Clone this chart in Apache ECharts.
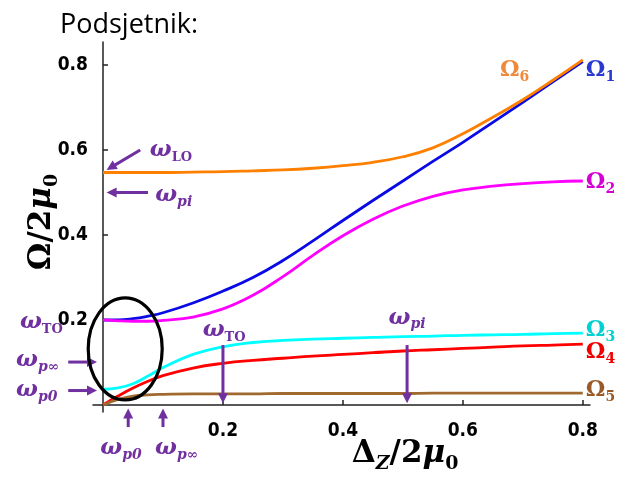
<!DOCTYPE html>
<html><head><meta charset="utf-8">
<script src="https://cdn.jsdelivr.net/npm/echarts@6/dist/echarts.min.js"></script>
<style>html,body{margin:0;padding:0;background:#fff}#c{width:620px;height:479px}</style>
</head><body><div id="c"></div>
<script>
// ---- data ----
const xs     = [0, 0.025, 0.05, 0.075, 0.1, 0.15, 0.2, 0.25, 0.3, 0.35, 0.4, 0.45, 0.5, 0.55, 0.6, 0.65, 0.7, 0.75, 0.8];
const omega1 = [0.200, 0.200, 0.203, 0.209, 0.217, 0.240, 0.268, 0.300, 0.340, 0.386, 0.434, 0.481, 0.527, 0.573, 0.618, 0.665, 0.712, 0.760, 0.808];
const omega2 = [0.200, 0.198, 0.197, 0.197, 0.199, 0.207, 0.226, 0.258, 0.302, 0.352, 0.398, 0.437, 0.468, 0.491, 0.506, 0.515, 0.521, 0.525, 0.527];
const omega3 = [0.037, 0.040, 0.050, 0.068, 0.088, 0.119, 0.137, 0.147, 0.152, 0.155, 0.157, 0.159, 0.161, 0.162, 0.164, 0.165, 0.166, 0.168, 0.169];
const omega4 = [0.000, 0.021, 0.040, 0.056, 0.069, 0.087, 0.098, 0.105, 0.110, 0.115, 0.119, 0.123, 0.127, 0.130, 0.133, 0.136, 0.139, 0.141, 0.143];
const omega5 = [0.000, 0.013, 0.021, 0.024, 0.025, 0.026, 0.026, 0.026, 0.027, 0.027, 0.027, 0.027, 0.027, 0.028, 0.028, 0.028, 0.028, 0.028, 0.028];
const omega6 = [0.547, 0.547, 0.547, 0.547, 0.547, 0.548, 0.549, 0.551, 0.553, 0.557, 0.563, 0.571, 0.584, 0.605, 0.638, 0.677, 0.718, 0.764, 0.812];
const xTicks = [0.2, 0.4, 0.6, 0.8];
const yTicks = [0.2, 0.4, 0.6, 0.8];
const seriesNames = ['1', '2', '3', '4', '5', '6'];

const PURPLE = '#7030a0';
const lineColors  = ['#0a0ae6', '#ff00ff', '#00ffff', '#ff0000', '#a0692e', '#ff8000'];
const labelColors = ['#2a3ad0', '#d400d4', '#00d0d0', '#f00000', '#9a5a28', '#f08a3a'];

const chart = echarts.init(document.getElementById('c'), null, {renderer: 'canvas'});

function zip(a, b) { return a.map((v, i) => [v, b[i]]); }
function omegaRich(color, key) {
  return {
    o: {fontFamily: 'DejaVu Serif', fontWeight: 'bold', fontSize: 22, [key]: color, lineHeight: 28},
    s: {fontFamily: 'DejaVu Serif', fontWeight: 'bold', fontSize: 14, [key]: color, lineHeight: 28, verticalAlign: 'bottom'}
  };
}
const endOffsets = [[0, 9], [0, 1], [0, -3], [0, 8], [0, -3], null];
const allVals = [omega1, omega2, omega3, omega4, omega5, omega6];

const series = allVals.map((vals, i) => ({
  type: 'line',
  name: 'Ω' + seriesNames[i],
  data: zip(xs, vals),
  smooth: 0.45,
  showSymbol: false,
  symbol: 'none',
  lineStyle: {color: lineColors[i], width: 2.8},
  z: 3,
  endLabel: endOffsets[i] ? {
    show: true,
    distance: 3,
    offset: endOffsets[i],
    formatter: '{o|Ω}{s|' + seriesNames[i] + '}',
    rich: omegaRich(labelColors[i], 'color')
  } : {show: false}
}));

const tickFont = {fontFamily: "'Liberation Sans Narrow','DejaVu Sans Condensed','Roboto',sans-serif", fontWeight: 'bold', fontSize: 19, color: '#000'};

chart.setOption({
  animation: false,
  grid: {left: 93, right: 30, top: 42, bottom: 67, containLabel: false},
  xAxis: {
    type: 'value', min: -0.0167, max: 0.812,
    splitLine: {show: false},
    axisLine: {onZero: true, lineStyle: {color: '#222', width: 1.5}},
    axisTick: {show: true, inside: true, length: 5, customValues: xTicks, lineStyle: {color: '#222', width: 1.5}},
    axisLabel: Object.assign({customValues: xTicks, margin: 10, formatter: v => v.toFixed(1)}, tickFont)
  },
  yAxis: {
    type: 'value', min: -0.0165, max: 0.854,
    splitLine: {show: false},
    axisLine: {onZero: true, lineStyle: {color: '#222', width: 1.5}},
    axisTick: {show: true, inside: true, length: 5, customValues: yTicks, lineStyle: {color: '#222', width: 1.5}},
    axisLabel: Object.assign({customValues: yTicks, margin: 5, formatter: v => v.toFixed(1)}, tickFont)
  },
  series: series
});

// ---- annotations (anchored in data space) ----
const arrowDefs = [
  [[0.062, 0.600], [0.006, 0.553]],   // ω_LO
  [[0.075, 0.500], [0.006, 0.500]],   // ω_pi (left)
  [[-0.058, 0.101], [-0.010, 0.101]], // ω_p∞ (left)
  [[-0.058, 0.034], [-0.010, 0.034]], // ω_p0 (left)
  [[0.042, -0.052], [0.042, -0.008]], // ω_p0 (bottom)
  [[0.100, -0.052], [0.100, -0.008]], // ω_p∞ (bottom)
  [[0.200, 0.141], [0.200, 0.004]],   // ω_TO (mid)
  [[0.507, 0.141], [0.507, 0.004]]    // ω_pi (mid)
];
// [text, anchor, align]
const wText = [
  ['{w|ω}{u|LO}', [0.078, 0.600], 'left'],
  ['{w|ω}{i|pi}', [0.087, 0.494], 'left'],
  ['{w|ω}{u|TO}', [-0.067, 0.195], 'right'],
  ['{w|ω}{i|p∞}', [-0.145, 0.106], 'left'],
  ['{w|ω}{i|p0}', [-0.145, 0.035], 'left'],
  ['{w|ω}{i|p0}', [0.030, -0.101], 'center'],
  ['{w|ω}{i|p∞}', [0.123, -0.101], 'center'],
  ['{w|ω}{u|TO}', [0.202, 0.176], 'center'],
  ['{w|ω}{i|pi}', [0.507, 0.205], 'center']
];
const ellipseDef = {center: [0.037, 0.132], rx: 0.0617, ry: 0.12};
const omega6Label = [0.662, 0.788];

const wRich = {
  w: {fontFamily: 'DejaVu Serif', fontStyle: 'italic', fontWeight: 'bold', fontSize: 23, fill: PURPLE, lineHeight: 28},
  u: {fontFamily: 'DejaVu Serif', fontWeight: 'bold', fontSize: 13, fill: PURPLE, lineHeight: 28, verticalAlign: 'bottom'},
  i: {fontFamily: 'DejaVu Serif', fontStyle: 'italic', fontWeight: 'bold', fontSize: 14, fill: PURPLE, lineHeight: 28, verticalAlign: 'bottom'}
};

function px(p) { return chart.convertToPixel({gridIndex: 0}, p); }

function arrow(a, b) {
  const p1 = px(a), p2 = px(b);
  const dx = p2[0] - p1[0], dy = p2[1] - p1[1];
  const L = Math.hypot(dx, dy), ux = dx / L, uy = dy / L;
  const hl = 10, hw = 5;
  const bx = p2[0] - ux * hl, by = p2[1] - uy * hl;
  return [
    {type: 'line', shape: {x1: p1[0], y1: p1[1], x2: bx + ux, y2: by + uy}, style: {stroke: PURPLE, lineWidth: 3}, z: 10},
    {type: 'polygon', shape: {points: [[p2[0], p2[1]], [bx - uy * hw, by + ux * hw], [bx + uy * hw, by - ux * hw]]}, style: {fill: PURPLE}, z: 10}
  ];
}

const g = [];
arrowDefs.forEach(d => g.push(...arrow(d[0], d[1])));
wText.forEach(t => {
  const p = px(t[1]);
  g.push({type: 'text', x: p[0], y: p[1], z: 10,
    style: {text: t[0], rich: wRich, fill: PURPLE, align: t[2], verticalAlign: 'middle'}});
});
const ec = px(ellipseDef.center);
const er = px([ellipseDef.center[0] + ellipseDef.rx, ellipseDef.center[1] + ellipseDef.ry]);
g.push({type: 'ellipse', shape: {cx: ec[0], cy: ec[1], rx: er[0] - ec[0], ry: ec[1] - er[1]},
  style: {fill: 'none', stroke: '#000', lineWidth: 3.2}, z: 11});
const o6 = px(omega6Label);
g.push({type: 'text', x: o6[0], y: o6[1], z: 10,
  style: {text: '{o|Ω}{s|6}', rich: omegaRich(labelColors[5], 'fill'), fill: labelColors[5], align: 'left', verticalAlign: 'middle'}});

// title and axis names
g.push({type: 'text', x: 60, y: 25, z: 10,
  style: {text: 'Podsjetnik:', fontFamily: '"Open Sans", Lato, sans-serif', fontSize: 27, fill: '#000', align: 'left', verticalAlign: 'middle'}});
const nameRich = {
  o: {fontFamily: 'DejaVu Serif', fontWeight: 'bold', fontSize: 31, fill: '#000', lineHeight: 40},
  n: {fontFamily: 'DejaVu Serif', fontWeight: 'bold', fontSize: 31, fill: '#000', lineHeight: 40},
  m: {fontFamily: 'DejaVu Serif', fontStyle: 'italic', fontWeight: 'bold', fontSize: 31, fill: '#000', lineHeight: 40},
  s: {fontFamily: 'DejaVu Serif', fontWeight: 'bold', fontSize: 19, fill: '#000', lineHeight: 40, verticalAlign: 'bottom'},
  z: {fontFamily: 'DejaVu Serif', fontStyle: 'italic', fontWeight: 'bold', fontSize: 19, fill: '#000', lineHeight: 40, verticalAlign: 'bottom'}
};
g.push({type: 'text', x: 42, y: 222, rotation: Math.PI / 2, z: 10,
  style: {text: '{o|Ω}{n|/2}{m|μ}{s|0}', rich: nameRich, align: 'center', verticalAlign: 'middle'}});
g.push({type: 'text', x: 405, y: 454, z: 10,
  style: {text: '{o|Δ}{z|Z}{n|/2}{m|μ}{s|0}', rich: nameRich, align: 'center', verticalAlign: 'middle'}});

chart.setOption({graphic: g});
</script>
</body></html>
